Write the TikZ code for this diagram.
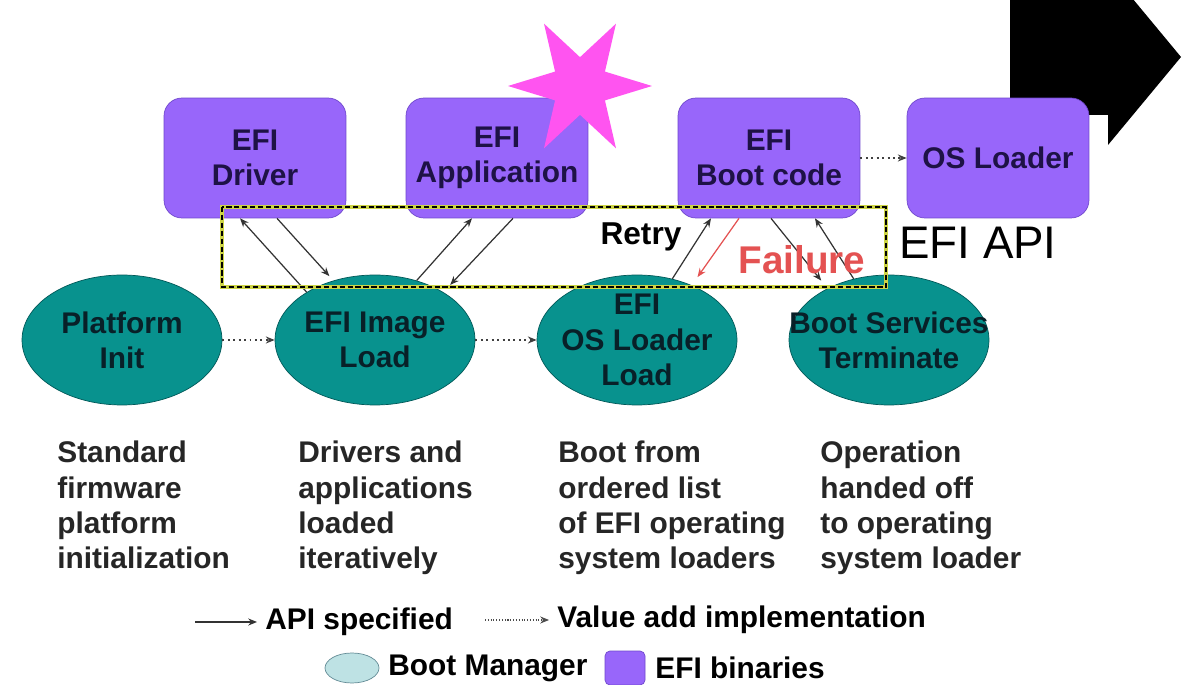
\documentclass[tikz,border=0pt]{standalone}
\usepackage{fontspec}
\setmainfont{Liberation Sans}
\usepackage{xcolor}
\usepackage{tikz}
\usetikzlibrary{arrows.meta}
\usetikzlibrary{calc}
\usetikzlibrary{shapes.geometric}
\definecolor{efipurple}{RGB}{152,102,250}
\definecolor{efiedge}{RGB}{112,72,205}
\definecolor{efitext}{RGB}{30,18,70}
\definecolor{bootteal}{RGB}{8,146,142}
\definecolor{bootedge}{RGB}{0,88,88}
\definecolor{boottext}{RGB}{8,32,40}
\definecolor{legteal}{RGB}{190,226,228}
\definecolor{legedge}{RGB}{100,140,150}
\definecolor{starpink}{RGB}{255,84,240}
\definecolor{failred}{RGB}{228,82,82}
\definecolor{apiyellow}{RGB}{205,212,70}
\tikzset{
  lbl/.style={font=\bfseries\fontsize{17}{20}\selectfont},
  efibin/.style={lbl, rectangle, rounded corners=0.36cm, fill=efipurple, draw=efiedge, text=efitext, minimum width=3.64cm, minimum height=2.4cm, align=center},
  bootmgr/.style={lbl, ellipse, fill=bootteal, draw=bootedge, text=boottext, minimum width=4cm, minimum height=2.6cm, inner xsep=-0.6cm, inner ysep=0pt, align=center},
  desc/.style={lbl, text=black!85, align=left, anchor=north west, inner sep=0pt},
  api/.style={-{Stealth[length=5pt,width=4pt]}, line width=0.7pt, black!80},
  valueadd/.style={-{Stealth[length=5pt,width=4pt]}, dotted, line width=1.1pt, black!75},
}
\begin{document}
\begin{tikzpicture}[x=0.02cm, y=-0.02cm]
	\useasboundingbox (0,0) rectangle (1187,685);
	\fill[white] (0,0) rectangle (1187,685);
	\fill[black] (1010,-1) -- (1108,-1) -- (1108,-31) -- (1181,57) -- (1108,145) -- (1108,115) -- (1010,115) -- cycle;
	\node[efibin] (drv) at (255,158) {EFI\\Driver};
	\node[efibin] (app) at (497,158) {EFI\\Application};
	\node[efibin] (boot) at (769,158) {EFI\\Boot code};
	\node[efibin] (osl) at (998,158) {OS Loader};
	\node[bootmgr] (plat) at (122,340) {Platform\\Init};
	\node[bootmgr] (imgld) at (375,340) {EFI Image\\Load};
	\node[bootmgr] (osld) at (637,340) {EFI\\OS Loader\\Load};
	\node[bootmgr] (bst) at (889,340) {Boot Services\\Terminate};
	\draw[valueadd] (plat) -- (imgld);
	\draw[valueadd] (imgld) -- (osld);
	\draw[valueadd] (boot) -- (osl);
	\draw[api] (imgld.145) -- ($(drv.south)+(-15,0)$);
	\draw[api, shorten >=0.12cm] ($(drv.south)+(22,0)$) -- (imgld.125);
	\draw[api] (imgld.55) -- ($(app.south)+(-25,0)$);
	\draw[api, shorten >=0.2cm] ($(app.south)+(16,0)$) -- (imgld.35);
	\draw[api] (osld.60) -- ($(boot.south)+(-58,0)$);
	\draw[api, failred, shorten >=0.2cm] ($(boot.south)+(-30,0)$) -- (osld.45);
	\draw[api, shorten >=0.2cm] ($(boot.south)+(2,0)$) -- (bst.140);
	\draw[api] (bst.120) -- ($(boot.south)+(46,0)$);
	\draw[apiyellow, line width=2.2pt] (222,207) rectangle (886,287);
	\draw[black, line width=1.3pt, dash pattern=on 3pt off 1.5pt] (222,207) rectangle (886,287);
	\node[font=\bfseries\fontsize{18}{20}\selectfont] (retry) at (641,237) {Retry};
	\node[font=\bfseries\fontsize{22}{24}\selectfont, text=failred] (fail) at (802,260) {Failure};
	\node[font=\fontsize{26}{28}\selectfont] (efiapi) at (978,243) {EFI API};
	\node[star, star points=6, star point ratio=2.5, minimum size=2.88cm, inner sep=0pt, rotate=30, fill=starpink] (star) at (580,86) {};
	\node[desc] (d1) at (57,441) {Standard\\firmware\\platform\\initialization};
	\node[desc] (d2) at (298,441) {Drivers and\\applications\\loaded\\iteratively};
	\node[desc] (d3) at (558,441) {Boot from\\ordered list\\of EFI operating\\system loaders};
	\node[desc] (d4) at (820,441) {Operation\\handed off\\to operating\\system loader};
	\coordinate (apistart) at (195,622);
	\node[lbl, anchor=west, inner sep=0pt] (apitxt) at (265,622) {API specified};
	\draw[api] (apistart) -- ($(apitxt.west)+(-8,0)$);
	\coordinate (vastart) at (485,620);
	\node[lbl, anchor=west, inner sep=0pt] (vatxt) at (557,620) {Value add implementation};
	\draw[-{Stealth[length=5pt,width=4pt]}, densely dotted, line width=0.6pt, black!70] (vastart) -- ($(vatxt.west)+(-8,0)$);
	\node[ellipse, fill=legteal, draw=legedge, minimum width=1.08cm, minimum height=0.6cm, inner sep=0pt] (legbm) at (352,668) {};
	\node[lbl, anchor=west, inner sep=0pt] (bmtxt) at (388,668) {Boot Manager};
	\node[rectangle, rounded corners=0.1cm, fill=efipurple, draw=efiedge, minimum width=0.8cm, minimum height=0.68cm] (legefi) at (625,668) {};
	\node[lbl, anchor=west, inner sep=0pt] (efitxt) at (655,668) {EFI binaries};
\end{tikzpicture}
\end{document}
